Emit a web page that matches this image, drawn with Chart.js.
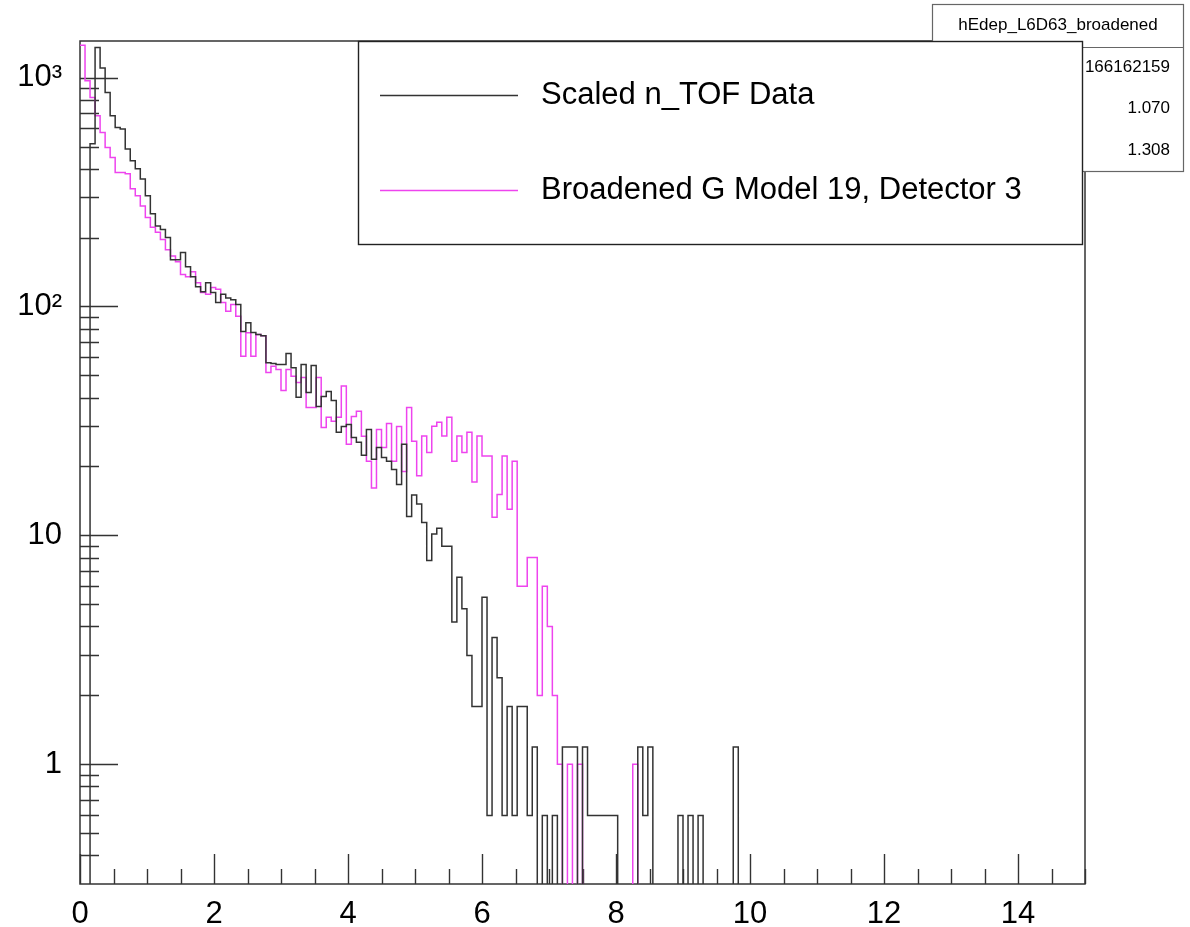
<!DOCTYPE html>
<html>
<head>
<meta charset="utf-8">
<title>hEdep_L6D63_broadened</title>
<script src="https://cdn.jsdelivr.net/npm/chart.js@4.4.1/dist/chart.umd.min.js"></script>
<style>
  html, body { margin: 0; padding: 0; background: #fff; }
  #wrap { width: 1190px; height: 927px; position: relative; }
</style>
</head>
<body>
<div id="wrap"><canvas id="grafikHist"></canvas></div>
<script>
// ---------------------------------------------------------------
// DATA: 200 bins of 0.075 from 0 to 15
// ---------------------------------------------------------------
const nBins = 200;
const binWidth = 0.075;
const xMin = 0, xMax = 15;
const yMin = 0.303, yMax = 1445;

const seriesNames = ["Scaled n_TOF Data", "Broadened G Model 19, Detector 3"];

// bin contents starting at bin 0, bins after the last one are empty
const nTofData = [
  0, 0, 514, 1352, 1102, 861, 681, 605, 597, 487,
  433, 400, 361, 305, 254, 225, 217, 200, 160, 160,
  172, 149, 135, 122, 116, 127, 115, 104, 113, 109,
  107, 102, 77.7, 85, 76.9, 75.4, 74.6, 56.8, 56.4, 55.8,
  55.8, 62.3, 54, 40.1, 55.8, 42.1, 55.2, 36.6, 40.4, 42.5,
  38.8, 28.2, 29.9, 30.5, 26.8, 25.5, 22.4, 29.0, 21.5, 24.2,
  21.9, 21.1, 19.4, 16.7, 25.0, 12.1, 15.0, 13.7, 11.4, 7.76,
  10.15, 10.75, 8.96, 8.96, 4.18, 6.57, 4.78, 2.99, 1.79, 1.79,
  5.37, 0.597, 3.58, 2.39, 0.597, 1.79, 0.597, 1.79, 1.79, 0.597,
  1.19, 0, 0.597, 0, 0.597, 0, 1.19, 1.19, 1.19, 0,
  1.19, 0.597, 0.597, 0.597, 0.597, 0.597, 0.597, 0, 0, 0,
  0, 1.19, 0.597, 1.19, 0, 0, 0, 0, 0, 0.597,
  0, 0.597, 0, 0.597, 0, 0, 0, 0, 0, 0,
  1.19
];

const modelData = [
  1384, 968, 818, 681, 575, 495, 448, 385, 385, 380,
  327, 305, 275, 245, 222, 211, 196, 177, 166, 157,
  138, 135, 142, 127, 115, 113, 121, 119, 104, 95.3,
  102, 90.6, 60.6, 76.7, 60.6, 75.4, 74.6, 51.5, 54.8, 53.1,
  43.0, 53.1, 49.6, 46.6, 49.0, 36.2, 36.2, 49.0, 29.6, 32.8,
  31.5, 32.8, 44.9, 25.0, 33.1, 34.9, 27.1, 21.1, 16.1, 29.0,
  24.2, 30.8, 21.1, 29.9, 19.0, 36.2, 25.8, 18.2, 27.2, 23.0,
  30.0, 31.2, 27.2, 32.8, 21.1, 27.2, 23.0, 28.2, 17.1, 27.2,
  22.2, 22.2, 12.0, 15.1, 22.2, 13.0, 21.1, 6.0, 6.0, 8.0,
  8.0, 2.0, 6.0, 4.0, 2.0, 1.0, 0, 1.0, 0, 1.0,
  0, 0, 0, 0, 0, 0, 0, 0, 0, 0,
  1.0
];

const xTickLabels = [0, 2, 4, 6, 8, 10, 12, 14];
const yTickValues = [1, 10, 100, 1000];
const yTickLabels = ["1", "10", "10²", "10³"];

const statsTitle = "hEdep_L6D63_broadened";
const statsNames = ["Entries", "Mean", "Std Dev"];
const statsValues = ["166162159", "1.070", "1.308"];

// ---------------------------------------------------------------
// helpers
// ---------------------------------------------------------------
const FONT = "'Liberation Sans', Arial, Helvetica, sans-serif";
const lineColors = ["#333333", "#ee44ee"];

// histogram outline: one point per low bin edge, empty bins drop below the frame
function toSteps(values) {
  const pts = [];
  for (let i = 0; i < nBins; i++) {
    const v = i < values.length ? values[i] : 0;
    pts.push({ x: i * binWidth, y: v > 0 ? v : yMin / 100 });
  }
  pts.push({ x: nBins * binWidth, y: yMin / 100 });
  return pts;
}

// frame + ROOT style inside ticks, stats box and legend
const frameTicks = {
  id: "frameTicks",
  beforeDatasetsDraw(chart) {
    const { ctx, chartArea: a, scales } = chart;
    ctx.save();
    ctx.strokeStyle = "#333";
    ctx.lineWidth = 1.4;
    ctx.beginPath();
    for (let v = xMin; v <= xMax + 1e-9; v += 0.5) {
      const px = Math.round(scales.x.getPixelForValue(v)) + 0.5;
      const len = Math.abs(v % 2) < 1e-9 ? 30 : 15;
      ctx.moveTo(px, a.bottom);
      ctx.lineTo(px, a.bottom - len);
    }
    for (let d = 0.1; d < yMax * 10; d *= 10) {
      for (let m = 1; m <= 9; m++) {
        const v = d * m;
        if (v < yMin || v > yMax) continue;
        const py = Math.round(scales.y.getPixelForValue(v)) + 0.5;
        ctx.moveTo(a.left, py);
        ctx.lineTo(a.left + (m === 1 ? 38 : 19), py);
      }
    }
    ctx.stroke();
    ctx.lineWidth = 1.5;
    ctx.strokeRect(a.left, a.top, a.right - a.left, a.bottom - a.top);
    ctx.restore();
  },
  afterDraw(chart) {
    const ctx = chart.ctx;
    ctx.save();
    // stats box
    ctx.fillStyle = "#fff";
    ctx.fillRect(932, 4, 251, 168);
    ctx.strokeStyle = "#666";
    ctx.lineWidth = 1.2;
    ctx.strokeRect(932.5, 4.5, 251, 167);
    ctx.beginPath();
    ctx.moveTo(932, 47.5);
    ctx.lineTo(1183, 47.5);
    ctx.stroke();
    ctx.fillStyle = "#000";
    ctx.font = "17px " + FONT;
    ctx.textBaseline = "middle";
    ctx.textAlign = "center";
    ctx.fillText(statsTitle, 1058, 25);
    statsNames.forEach((n, i) => {
      const y = 67 + i * 41.5;
      ctx.textAlign = "left";
      ctx.fillText(n, 944, y);
      ctx.textAlign = "right";
      ctx.fillText(statsValues[i], 1170, y);
    });
    // legend box
    ctx.fillStyle = "#fff";
    ctx.fillRect(358, 41, 725, 204);
    ctx.strokeStyle = "#222";
    ctx.lineWidth = 1.4;
    ctx.strokeRect(358.5, 41.5, 724, 203);
    ctx.font = "31px " + FONT;
    ctx.textAlign = "left";
    seriesNames.forEach((name, i) => {
      const y = 95 + i * 95;
      ctx.strokeStyle = lineColors[i];
      ctx.lineWidth = 1.5;
      ctx.beginPath();
      ctx.moveTo(380, y + 0.5);
      ctx.lineTo(518, y + 0.5);
      ctx.stroke();
      ctx.fillStyle = "#000";
      ctx.fillText(name, 541, y);
    });
    ctx.restore();
  }
};

// ---------------------------------------------------------------
// chart
// ---------------------------------------------------------------
document.addEventListener("DOMContentLoaded", () => {
  const ctxHist = document.getElementById("grafikHist").getContext("2d");
  new Chart(ctxHist, {
    type: "line",
    data: {
      datasets: [nTofData, modelData].map((vals, i) => ({
        label: seriesNames[i],
        data: toSteps(vals),
        borderColor: lineColors[i],
        borderWidth: 1.5,
        stepped: true,
        pointRadius: 0,
        fill: false,
        tension: 0,
      })),
    },
    options: {
      responsive: true,
      maintainAspectRatio: false,
      animation: false,
      events: [],
      layout: { padding: { top: 41, right: 105, left: 0, bottom: 0 } },
      plugins: { legend: { display: false }, tooltip: { enabled: false } },
      scales: {
        x: {
          type: "linear",
          min: xMin,
          max: xMax,
          grid: { display: false },
          border: { display: false },
          afterBuildTicks: (s) => { s.ticks = xTickLabels.map((v) => ({ value: v })); },
          afterFit: (s) => { s.height = 43; },
          ticks: {
            autoSkip: false,
            maxRotation: 0,
            padding: 4,
            color: "#000",
            font: { family: FONT, size: 31 },
            callback: (v) => String(v),
          },
        },
        y: {
          type: "logarithmic",
          min: yMin,
          max: yMax,
          grid: { display: false },
          border: { display: false },
          afterBuildTicks: (s) => { s.ticks = yTickValues.map((v) => ({ value: v })); },
          afterFit: (s) => { s.width = 80; },
          ticks: {
            autoSkip: false,
            padding: 10,
            color: "#000",
            font: { family: FONT, size: 31 },
            callback: (v, idx) => yTickLabels[idx],
          },
        },
      },
    },
    plugins: [frameTicks],
  });
});
</script>
</body>
</html>
